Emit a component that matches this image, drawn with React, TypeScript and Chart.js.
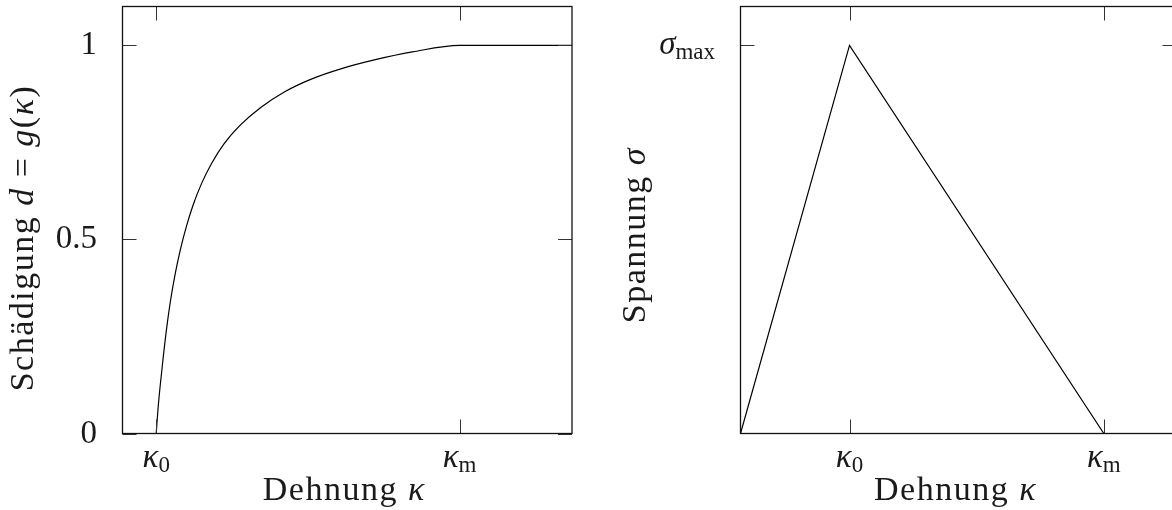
import React, { useEffect, useRef } from "react";
import { Chart, registerables } from "chart.js";

Chart.register(...registerables);

// ---- Data ----
// Left panel: damage d = g(kappa); kappa in units with kappa0 = 0.1, kappa_m = 1
const dmgKappa = [0.1, 0.105, 0.112, 0.12, 0.13, 0.142, 0.156, 0.172, 0.19, 0.21, 0.235, 0.265, 0.3, 0.35, 0.41, 0.48, 0.56, 0.65, 0.75, 0.86, 1.0, 1.3333];
const dmgValue = [0, 0.06, 0.125, 0.19, 0.265, 0.34, 0.41, 0.475, 0.535, 0.59, 0.645, 0.697, 0.745, 0.795, 0.84, 0.88, 0.913, 0.94, 0.963, 0.983, 1.0, 1.0];
const dmgXTickValues = [0.1, 1.0];
const dmgXTickSubs = ["0", "m"];
const dmgYTickValues = [0, 0.5, 1];
const dmgYTickLabels = ["0", "0.5", "1"];

// Right panel: stress sigma; kappa0 = 0.3, kappa_m = 1.0, sigma_max = 1
const stressKappa = [0, 0.3, 1.0, 1.2];
const stressValue = [0, 1, 0, 0];
const stressXTickValues = [0.3, 1.0];
const stressXTickSubs = ["0", "m"];
const stressYTickValues = [1];

const FAM = "'Liberation Serif', 'DejaVu Serif', serif";
const SZ = 33;
const TSZ = 34;
const SUB = 23;
const ROMAN = `${SZ}px ${FAM}`;
const ITAL = `italic ${SZ}px ${FAM}`;
const TROMAN = `${TSZ}px ${FAM}`;
const TITAL = `italic ${TSZ}px ${FAM}`;
const SUBF = `${SUB}px ${FAM}`;
const TXT = "#1a1a1a";

type Seg = { t: string; f: string; dy?: number };

function drawRich(
  ctx: CanvasRenderingContext2D,
  segs: Seg[],
  x: number,
  y: number,
  align: "left" | "center" | "right",
  spacing = 0
) {
  (ctx as any).letterSpacing = `${spacing}px`;
  let w = 0;
  const ws = segs.map((s) => {
    ctx.font = s.f;
    const m = ctx.measureText(s.t).width;
    w += m;
    return m;
  });
  let cx = align === "center" ? x - w / 2 : align === "right" ? x - w : x;
  segs.forEach((s, i) => {
    ctx.font = s.f;
    ctx.fillText(s.t, cx, y + (s.dy || 0));
    cx += ws[i];
  });
  (ctx as any).letterSpacing = "0px";
}

const decoPlugin = {
  id: "deco",
  afterDraw(chart: any, _args: any, opts: any) {
    const ctx: CanvasRenderingContext2D = chart.ctx;
    const { left, right, top, bottom } = chart.chartArea;
    const xs = chart.scales.x;
    const ys = chart.scales.y;
    const TL = 14;
    ctx.save();
    // inward ticks on all four sides
    ctx.strokeStyle = "#333";
    ctx.lineWidth = 1;
    ctx.beginPath();
    for (const v of opts.xTicks as number[]) {
      const px = Math.round(xs.getPixelForValue(v)) + 0.5;
      ctx.moveTo(px, bottom);
      ctx.lineTo(px, bottom - TL);
      ctx.moveTo(px, top);
      ctx.lineTo(px, top + TL);
    }
    for (const v of opts.yTicks as number[]) {
      const py = Math.round(ys.getPixelForValue(v)) + 0.5;
      ctx.moveTo(left, py);
      ctx.lineTo(left + TL, py);
      ctx.moveTo(right, py);
      ctx.lineTo(right - TL, py);
    }
    ctx.stroke();
    // frame
    ctx.strokeStyle = "#111";
    ctx.lineWidth = 1.3;
    ctx.strokeRect(left, top, right - left, bottom - top);

    // labels
    ctx.fillStyle = TXT;
    ctx.textAlign = "left";
    ctx.textBaseline = "alphabetic";
    (opts.xTicks as number[]).forEach((v, i) => {
      const px = xs.getPixelForValue(v);
      drawRich(ctx, [{ t: "κ", f: ITAL }, { t: opts.xSubs[i], f: SUBF, dy: 5 }], px, bottom + 33.5, "center");
    });
    (opts.yTicks as number[]).forEach((v, i) => {
      const py = ys.getPixelForValue(v);
      drawRich(ctx, opts.yLabels[i], left - 25.5, py + 9, "right");
    });
    // x title
    drawRich(
      ctx,
      [{ t: "Dehnung ", f: TROMAN }, { t: "κ", f: TITAL }],
      (left + right) / 2 - 3,
      bottom + 66.5,
      "center",
      1.5
    );
    // y title (rotated)
    ctx.save();
    ctx.translate(opts.yTitleX, opts.yTitleY);
    ctx.rotate(-Math.PI / 2);
    drawRich(ctx, opts.yTitle, 0, 0, "center", 1.5);
    ctx.restore();
    ctx.restore();
  },
};

function makeConfig(
  kx: number[],
  vy: number[],
  xMax: number,
  monotone: boolean,
  yAxisWidth: number,
  padRight: number,
  deco: any
): any {
  return {
    type: "line",
    data: {
      datasets: [
        {
          data: kx.map((x, i) => ({ x, y: vy[i] })),
          borderColor: "#000",
          borderWidth: 1.2,
          pointRadius: 0,
          fill: false,
          tension: 0,
          cubicInterpolationMode: monotone ? "monotone" : "default",
        },
      ],
    },
    options: {
      responsive: false,
      animation: false,
      devicePixelRatio: 1,
      events: [],
      layout: { padding: { top: 6.5, right: padRight, left: 0, bottom: 0 } },
      plugins: { legend: { display: false }, tooltip: { enabled: false }, deco },
      scales: {
        x: {
          type: "linear",
          min: 0,
          max: xMax,
          grid: { display: false },
          border: { display: false },
          ticks: { display: false },
          afterFit: (s: any) => {
            s.height = 76.5;
          },
        },
        y: {
          type: "linear",
          min: 0,
          max: 1.1,
          grid: { display: false },
          border: { display: false },
          ticks: { display: false },
          afterFit: (s: any) => {
            s.width = yAxisWidth;
          },
        },
      },
    },
    plugins: [decoPlugin],
  };
}

export default function App() {
  const leftRef = useRef<HTMLCanvasElement>(null);
  const rightRef = useRef<HTMLCanvasElement>(null);

  useEffect(() => {
    const c1 = new Chart(
      leftRef.current!,
      makeConfig(dmgKappa, dmgValue, 1.3333, true, 122.5, 28, {
        xTicks: dmgXTickValues,
        xSubs: dmgXTickSubs,
        yTicks: dmgYTickValues,
        yLabels: dmgYTickLabels.map((l) => [{ t: l, f: ROMAN }]),
        yTitleX: 33,
        yTitleY: 238,
        yTitle: [
          { t: "Schädigung ", f: TROMAN },
          { t: "d", f: TITAL },
          { t: " = ", f: TROMAN },
          { t: "g", f: TITAL },
          { t: "(", f: TROMAN },
          { t: "κ", f: TITAL },
          { t: ")", f: TROMAN },
        ],
      })
    );
    const c2 = new Chart(
      rightRef.current!,
      makeConfig(stressKappa, stressValue, 1.2, false, 140.5, 13.5, {
        xTicks: stressXTickValues,
        xSubs: stressXTickSubs,
        yTicks: stressYTickValues,
        yLabels: [[{ t: "σ", f: ITAL }, { t: "max", f: SUBF, dy: 5 }]],
        yTitleX: 45,
        yTitleY: 235,
        yTitle: [
          { t: "Spannung ", f: TROMAN },
          { t: "σ", f: TITAL },
        ],
      })
    );
    return () => {
      c1.destroy();
      c2.destroy();
    };
  }, []);

  return (
    <div
      style={{
        position: "fixed",
        left: 0,
        top: 0,
        width: 1172,
        height: 510,
        overflow: "hidden",
        background: "#fff",
      }}
    >
      <canvas ref={leftRef} width={600} height={510} style={{ position: "absolute", left: 0, top: 0 }} />
      <canvas ref={rightRef} width={590} height={510} style={{ position: "absolute", left: 600, top: 0 }} />
    </div>
  );
}
